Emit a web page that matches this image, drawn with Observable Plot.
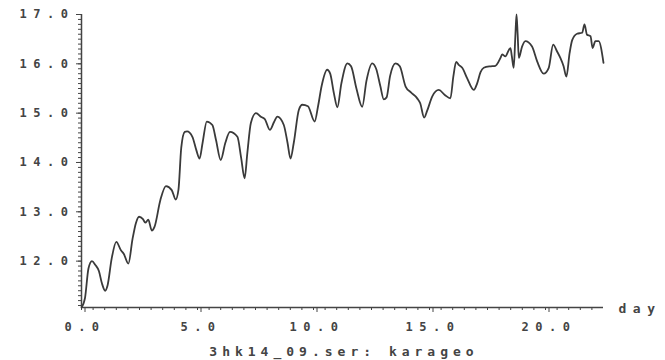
<!DOCTYPE html>
<html>
<head>
<meta charset="utf-8">
<script src="https://cdn.jsdelivr.net/npm/d3@7"></script>
<script src="https://cdn.jsdelivr.net/npm/@observablehq/plot@0.6"></script>
<style>
  html, body { margin: 0; padding: 0; background: #fff; }
  figure { margin: 0; }
  svg text { letter-spacing: 6.5px; }
  figcaption {
    font-family: "DejaVu Sans Mono", monospace;
    font-weight: bold;
    font-size: 13px;
    letter-spacing: 5px;
    color: #444;
    text-align: center;
    padding-left: 23px;
    padding-top: 7px;
    line-height: 16px;
  }
</style>
</head>
<body>
<div id="chart"></div>
<script>
const days = [0.00,0.15,0.30,0.45,0.60,0.75,0.88,1.02,1.12,1.30,1.50,1.70,1.82,2.02,2.20,2.35,2.48,2.65,2.75,2.88,3.03,3.15,3.40,3.64,3.89,4.06,4.18,4.30,4.45,4.55,4.78,4.95,5.09,5.22,5.40,5.64,5.80,6.00,6.20,6.40,6.72,6.88,7.03,7.15,7.30,7.52,7.75,7.90,8.12,8.30,8.44,8.72,8.88,9.01,9.15,9.37,9.52,9.76,10.05,10.20,10.35,10.59,10.72,10.88,11.03,11.20,11.46,11.62,11.85,12.10,12.28,12.53,12.70,12.88,13.03,13.15,13.30,13.54,13.72,13.97,14.20,14.47,14.60,14.77,14.90,15.12,15.40,15.66,15.90,16.03,16.15,16.26,16.41,16.62,16.91,17.05,17.20,17.34,17.63,17.84,18.06,18.13,18.27,18.42,18.49,18.55,18.63,18.70,18.75,18.80,18.85,18.99,19.13,19.42,19.64,19.92,20.14,20.33,20.50,20.64,20.78,20.90,21.04,21.15,21.36,21.58,21.68,21.79,21.94,22.03,22.15,22.29,22.50];
const values = [11.06,11.25,11.85,12.00,11.92,11.80,11.55,11.40,11.50,12.05,12.39,12.22,12.15,11.95,12.45,12.78,12.90,12.85,12.78,12.84,12.62,12.70,13.24,13.52,13.44,13.25,13.45,14.30,14.62,14.63,14.52,14.25,14.08,14.40,14.83,14.76,14.45,14.05,14.40,14.62,14.52,14.10,13.68,14.20,14.80,15.00,14.92,14.88,14.66,14.82,14.93,14.76,14.40,14.08,14.40,15.07,15.17,15.14,14.83,15.15,15.55,15.88,15.80,15.40,15.12,15.60,16.01,15.95,15.50,15.13,15.65,16.01,15.90,15.55,15.28,15.32,15.75,16.01,15.95,15.54,15.42,15.30,15.20,14.91,15.05,15.34,15.47,15.37,15.30,15.75,16.04,15.98,15.92,15.71,15.47,15.60,15.83,15.92,15.95,15.96,16.12,16.19,16.15,16.28,16.32,16.15,15.92,16.56,17.00,16.60,16.12,16.35,16.46,16.35,16.05,15.80,15.92,16.39,16.25,16.12,15.95,15.74,16.22,16.48,16.61,16.63,16.80,16.59,16.56,16.32,16.46,16.46,16.02];
const xTicks = [0, 5, 10, 15, 20];
const xMinorTicks = d3.range(0, 45).map(i => i * 0.5).filter(v => v <= 22.5);
const yTicks = [12, 13, 14, 15, 16, 17];
const yMinorTicks = d3.range(111, 171).map(i => i / 10);
const xDomain = [0, 22.5];
const yDomain = [11.06, 17.0];
const xName = "day";
const captionText = "3hk14_09.ser: karageo";

const data = days.map((d, i) => ({day: d, value: values[i]}));
const ink = "#444";

const chart = Plot.plot({
  width: 665,
  height: 337,
  marginLeft: 81,
  marginRight: 62,
  marginTop: 14,
  marginBottom: 30,
  style: {fontFamily: "'DejaVu Sans Mono', monospace", fontSize: "12px", fontWeight: "bold", color: ink, background: "#fff"},
  x: {domain: xDomain, label: null},
  y: {domain: yDomain, label: null},
  caption: captionText,
  marks: [
    Plot.axisX({ticks: xMinorTicks, tickSize: 3, tickFormat: () => "", label: null, stroke: ink, strokeOpacity: 1}),
    Plot.axisX({ticks: xTicks, tickSize: 5, tickPadding: 10, dx: 3.5, tickFormat: d => d.toFixed(1), label: null, stroke: ink, strokeOpacity: 1, fill: ink}),
    Plot.axisY({ticks: yMinorTicks, tickSize: 3, tickFormat: () => "", label: null, stroke: ink, strokeOpacity: 1}),
    Plot.axisY({ticks: yTicks, tickSize: 5, tickPadding: 2, tickFormat: d => d.toFixed(1), label: null, stroke: ink, strokeOpacity: 1, fill: ink}),
    Plot.ruleY([yDomain[0]], {stroke: ink, strokeWidth: 1.5}),
    Plot.ruleX([xDomain[0]], {stroke: ink, strokeWidth: 1.5}),
    Plot.line(data, {x: "day", y: "value", curve: "monotone-x", stroke: "#3a3a3a", strokeWidth: 1.8}),
    Plot.text([xName], {frameAnchor: "bottom-right", textAnchor: "start", lineAnchor: "middle", dx: 15, dy: 1, fontSize: 13, fill: ink})
  ]
});
document.getElementById("chart").appendChild(chart);
</script>
</body>
</html>
